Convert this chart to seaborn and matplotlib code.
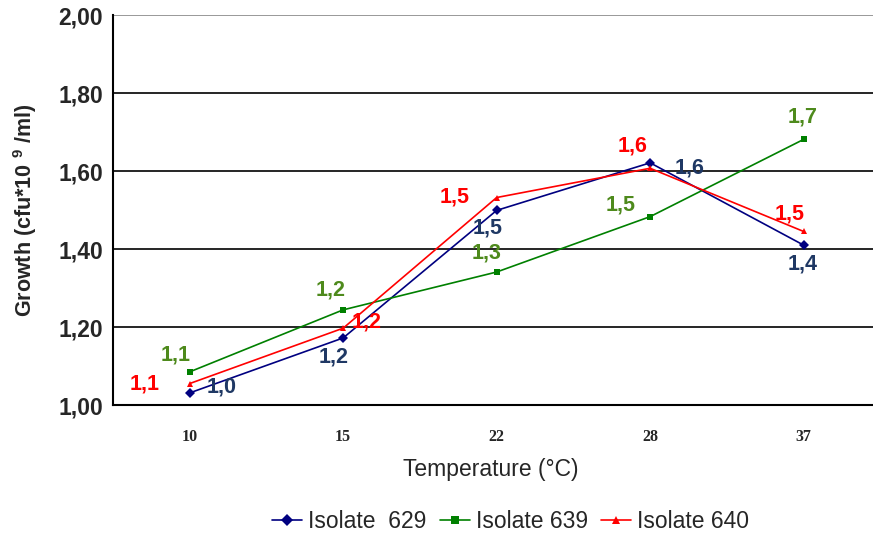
import pandas as pd
import seaborn as sns
import matplotlib.pyplot as plt

temps = ["10", "15", "22", "28", "37"]
isolates = ["Isolate  629", "Isolate 639", "Isolate 640"]
growth_629 = [1.031, 1.172, 1.499, 1.621, 1.410]
growth_639 = [1.085, 1.244, 1.341, 1.483, 1.681]
growth_640 = [1.055, 1.197, 1.532, 1.607, 1.445]
labels_629 = ["1,0", "1,2", "1,5", "1,6", "1,4"]
labels_639 = ["1,1", "1,2", "1,3", "1,5", "1,7"]
labels_640 = ["1,1", "1,2", "1,5", "1,6", "1,5"]

sns.set_style("white")
plt.rcParams['font.family'] = ['Liberation Sans', 'DejaVu Sans']
plt.rcParams['mathtext.fontset'] = 'custom'
plt.rcParams['mathtext.rm'] = 'Liberation Sans:bold'

rows = []
for name, vals in zip(isolates, [growth_629, growth_639, growth_640]):
    for i, v in enumerate(vals):
        rows.append({"pos": i, "growth": v, "isolate": name})
df = pd.DataFrame(rows)

line_colors = {"Isolate  629": "#000080", "Isolate 639": "#008000", "Isolate 640": "#FF0000"}
text_colors = {"Isolate  629": "#1F3864", "Isolate 639": "#4E8A1C", "Isolate 640": "#FF0000"}
markers = {"Isolate  629": "D", "Isolate 639": "s", "Isolate 640": "^"}

fig = plt.figure(figsize=(8.73, 5.4), dpi=100)
ax = fig.add_axes([0.1294, 0.25, 0.879, 0.7222])

sns.lineplot(data=df, x="pos", y="growth", hue="isolate", style="isolate",
             palette=line_colors, markers=markers, dashes=False, linewidth=1.2,
             markersize=5, markeredgewidth=0, ax=ax, legend=True)

# value labels, offsets in pixels
offsets = {
    "Isolate  629": [(32, 6), (-10, -19), (-9, -18), (39, -5), (-1, -19)],
    "Isolate 639": [(-14, 17), (-13, 20), (-10, 19), (-29, 12), (-1, 22)],
    "Isolate 640": [(-45, 0), (23, 6), (-42, 1), (-18, 22), (-14, 17)],
}
for name, vals, labs in zip(isolates, [growth_629, growth_639, growth_640],
                            [labels_629, labels_639, labels_640]):
    for i, (v, t) in enumerate(zip(vals, labs)):
        ax.annotate(t, (i, v), xytext=offsets[name][i], textcoords="offset pixels",
                    ha="center", va="center", fontsize=15.5, fontweight="bold",
                    color=text_colors[name])

ax.set_xlim(-0.5, 4.5)
ax.set_ylim(1.0, 2.0)
ax.set_xticks(range(len(temps)))
ax.set_xticklabels(temps, family="Liberation Serif", fontweight="bold", fontsize=11.5)
yt = [1.0, 1.2, 1.4, 1.6, 1.8, 2.0]
ax.set_yticks(yt)
ax.set_yticklabels([f"{v:.2f}".replace(".", ",") for v in yt], fontweight="bold", fontsize=16.5)
ax.tick_params(axis="y", length=5, width=1.2, color="black", direction="out", pad=2)
ax.tick_params(axis="x", length=0, pad=17)

for y in [1.2, 1.4, 1.6, 1.8]:
    ax.axhline(y, color="black", linewidth=1.2, zorder=0)
ax.axhline(2.0, color="#888888", linewidth=1.2, zorder=0)

for s in ["top", "right"]:
    ax.spines[s].set_visible(False)
ax.spines["left"].set_color("black")
ax.spines["left"].set_linewidth(1.5)
ax.spines["bottom"].set_color("black")
ax.spines["bottom"].set_linewidth(1.5)

ax.set_xlabel("Temperature (°C)", fontsize=16.5)
ax.xaxis.set_label_coords(0.4925, -0.137)
ax.set_ylabel("Growth (cfu*10 $^{9}$ /ml)", fontsize=15.5, fontweight="bold")
ax.yaxis.set_label_coords(-0.097, 0.5)

handles, labs = ax.get_legend_handles_labels()
ax.get_legend().remove()
for h in handles:
    h.set_markersize(6)
fig.legend(handles, labs, loc="center", bbox_to_anchor=(0.585, 0.035), ncol=3,
           frameon=False, fontsize=16.5, handlelength=1.3, handletextpad=0.25,
           columnspacing=0.6)

fig.savefig("out.png", dpi=100)
